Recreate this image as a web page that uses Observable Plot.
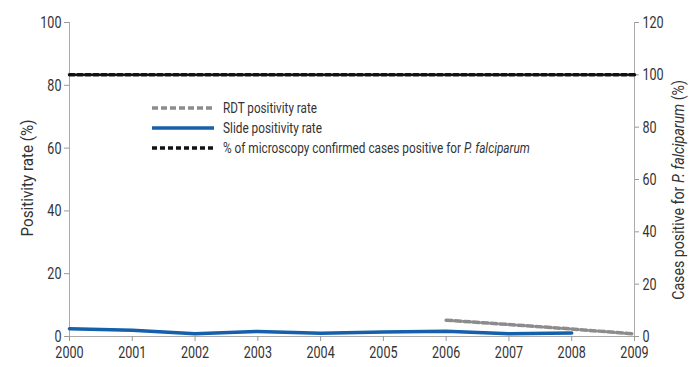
<!DOCTYPE html>
<html><head><meta charset="utf-8">
<script src="https://cdn.jsdelivr.net/npm/d3@7"></script>
<script src="https://cdn.jsdelivr.net/npm/@observablehq/plot@0.6"></script>
<style>
body{margin:0;background:#fff;}
#chart{position:relative;width:696px;height:367px;}
</style></head><body><div id="chart"></div>
<script>
// ---- data ----
const years = [2000,2001,2002,2003,2004,2005,2006,2007,2008,2009];
const slideYears = [2000,2001,2002,2003,2004,2005,2006,2007,2008];
const slideRate = [2.5,2.0,0.9,1.6,1.0,1.4,1.7,0.9,1.1];
const rdtYears = [2006,2007,2008,2009];
const rdtRate = [5.2,3.8,2.4,0.8];
const pfYears = [2000,2001,2002,2003,2004,2005,2006,2007,2008,2009];
const pfPct = [100,100,100,100,100,100,100,100,100,100];
const leftTicks = [0,20,40,60,80,100];
const rightTicks = [0,20,40,60,80,100,120];
const seriesNames = ["RDT positivity rate","Slide positivity rate","% of microscopy confirmed cases positive for "];
const colors = {rdt:"#8c8c8c", slide:"#1560aa", pf:"#111111"};

const FONT = 'Roboto,"Liberation Sans",sans-serif';
const SQUEEZE = 0.74;
const k = 100/120; // right axis (0-120) mapped onto left (0-100)

const slide = slideYears.map((x,i)=>({x, y: slideRate[i]}));
const rdt = rdtYears.map((x,i)=>({x, y: rdtRate[i]}));
const pf = pfYears.map((x,i)=>({x, y: pfPct[i]*k}));

const plot = Plot.plot({
  width:696, height:367,
  marginLeft:69, marginRight:62, marginTop:22, marginBottom:31,
  style:{fontFamily:FONT, fontSize:"17px", color:"#333", background:"#fff"},
  x:{type:"linear", domain:[2000,2009]},
  y:{domain:[0,100]},
  marks:[
    Plot.ruleX([2000],{stroke:"#aaa"}),
    Plot.ruleX([2009],{stroke:"#aaa"}),
    Plot.ruleY([0],{stroke:"#aaa"}),
    Plot.axisX({ticks:years, tickFormat:d=>String(d), tickSize:5, tickPadding:4, label:null, stroke:"#999", fill:"#333"}),
    Plot.axisY({ticks:leftTicks, tickSize:5, tickPadding:3, label:null, stroke:"#999", fill:"#333"}),
    Plot.axisY({anchor:"right", ticks:rightTicks.map(v=>v*k), tickFormat:v=>String(Math.round(v/k)), tickSize:4, tickPadding:4, label:null, stroke:"#999", fill:"#333"}),
    Plot.line(pf,{x:"x", y:"y", stroke:colors.pf, strokeWidth:3.5, strokeDasharray:"5,3"}),
    Plot.line(rdt,{x:"x", y:"y", stroke:colors.rdt, strokeWidth:3.5, strokeDasharray:"6,3"}),
    Plot.line(slide,{x:"x", y:"y", stroke:colors.slide, strokeWidth:3.5})
  ]
});
document.getElementById("chart").appendChild(plot);

const svg = d3.select(plot);
// condense tick labels (the reference uses a condensed face); keep em-based y in local coords
svg.selectAll("text").each(function(){
  const el = this;
  let tr = el.getAttribute("transform") || "";
  const x = el.getAttribute("x");
  if (x !== null && isFinite(+x)) {
    tr = tr + ` translate(${+x},0)`;
    el.removeAttribute("x");
  }
  el.setAttribute("transform", tr + ` scale(${SQUEEZE},1)`);
});

// fit a text node to a target width by horizontal scaling
function fit(sel, base, width) {
  const w = sel.node().getComputedTextLength();
  sel.attr("transform", `${base} scale(${width / w},1)`);
}

const lt = svg.append("text")
  .attr("text-anchor","middle").attr("fill","#333")
  .style("font-family",FONT).style("font-size","16px")
  .text("Positivity rate (%)");
fit(lt, "translate(33,178) rotate(-90)", 117);

const rt = svg.append("text")
  .attr("text-anchor","middle").attr("fill","#333")
  .style("font-family",FONT).style("font-size","16px");
rt.append("tspan").text("Cases positive for ");
rt.append("tspan").style("font-style","italic").text("P. falciparum");
rt.append("tspan").text(" (%)");
fit(rt, "translate(684,190) rotate(-90)", 220);

// legend (inside the plot area, as in the reference)
const items = [
  {c:colors.rdt, dash:"6,3", label:seriesNames[0], w:94},
  {c:colors.slide, dash:null, label:seriesNames[1], w:99},
  {c:colors.pf, dash:"5,3", label:seriesNames[2], it:"P. falciparum", w:307}
];
const lg = svg.append("g").attr("transform","translate(152,108)");
items.forEach((it,i)=>{
  const g = lg.append("g").attr("transform",`translate(0,${i*20})`);
  g.append("line").attr("x1",0).attr("x2",62).attr("y1",0).attr("y2",0)
    .attr("stroke",it.c).attr("stroke-width",3.5)
    .attr("stroke-dasharray",it.dash);
  const t = g.append("text").attr("dy","0.36em").attr("text-anchor","start")
    .attr("fill","#333")
    .style("font-family",FONT).style("font-size","15px");
  t.append("tspan").text(it.label);
  if (it.it) t.append("tspan").style("font-style","italic").text(it.it);
  fit(t, "translate(71,0)", it.w);
});
</script>
</body></html>
